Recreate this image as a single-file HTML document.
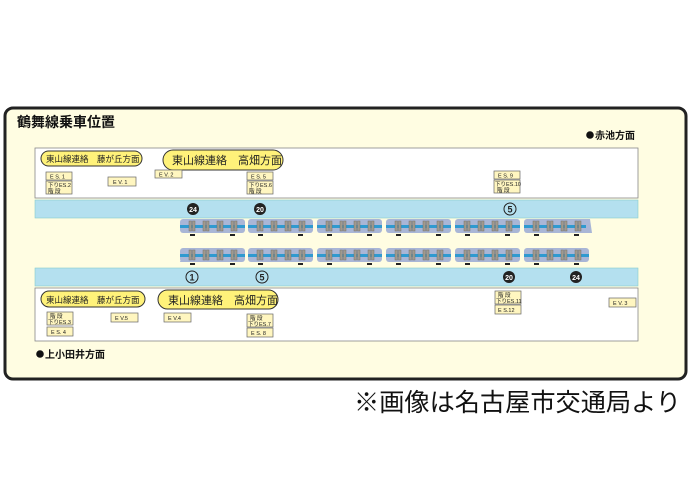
<!DOCTYPE html>
<html><head><meta charset="utf-8"><style>
body{margin:0;background:#fff;width:690px;height:488px;overflow:hidden}
svg text{font-family:"Liberation Sans","Noto Sans CJK JP",sans-serif}
</style></head><body>
<svg width="690" height="488" xmlns="http://www.w3.org/2000/svg">
<defs>
<g id="car">
<rect x="0" y="0" width="65" height="14" rx="3" fill="#a9b6d6"/>
<rect x="0" y="6" width="65" height="3" fill="#2f9ad0"/>
<g fill="#a09a8e" stroke="#77726a" stroke-width="0.5">
<rect x="9" y="2" width="2.5" height="10"/><rect x="12.5" y="2" width="2.5" height="10"/>
<rect x="23" y="2" width="2.5" height="10"/><rect x="26.5" y="2" width="2.5" height="10"/>
<rect x="37" y="2" width="2.5" height="10"/><rect x="40.5" y="2" width="2.5" height="10"/>
<rect x="51" y="2" width="2.5" height="10"/><rect x="54.5" y="2" width="2.5" height="10"/>
</g>
<rect x="10" y="15" width="5" height="2" fill="#222"/><rect x="50" y="15" width="5" height="2" fill="#222"/>
</g>
</defs>
<rect x="5" y="108" width="681" height="271" rx="8" fill="#fffde2" stroke="#222" stroke-width="3"/>
<text x="17" y="127" font-size="14" font-weight="bold" fill="#111">鶴舞線乗車位置</text>
<circle cx="590" cy="135" r="3.8" fill="#111"/>
<text x="595" y="139" font-size="10" font-weight="bold" fill="#111">赤池方面</text>
<circle cx="40" cy="354" r="3.8" fill="#111"/>
<text x="45" y="358" font-size="10" font-weight="bold" fill="#111">上小田井方面</text>
<rect x="35" y="148" width="603" height="50" fill="#fff" stroke="#888" stroke-width="0.8"/>
<rect x="35" y="200" width="603" height="18" fill="#b4e0ef" stroke="#8cc" stroke-width="0.6"/>
<rect x="35" y="268" width="603" height="18" fill="#b4e0ef" stroke="#8cc" stroke-width="0.6"/>
<rect x="35" y="288" width="603" height="53" fill="#fff" stroke="#888" stroke-width="0.8"/>
<rect x="41" y="151" width="101" height="15" rx="7.5" fill="#fff27a" stroke="#333"/>
<text x="46" y="162" font-size="8.5" fill="#222">東山線連絡　藤が丘方面</text>
<rect x="163" y="150" width="120" height="20" rx="10" fill="#fff27a" stroke="#333"/>
<text x="172" y="164" font-size="11" fill="#222">東山線連絡　高畑方面</text>
<rect x="41" y="291" width="104" height="16" rx="8" fill="#fff27a" stroke="#333"/>
<text x="46" y="303" font-size="8.5" fill="#222">東山線連絡　藤が丘方面</text>
<rect x="158" y="290" width="120" height="19" rx="9.5" fill="#fff27a" stroke="#333"/>
<text x="168" y="304" font-size="11" fill="#222">東山線連絡　高畑方面</text>
<g font-size="5.5" fill="#222">
<rect x="46" y="172" width="26" height="8" fill="#fff6c0" stroke="#666" stroke-width="0.7"/><text x="50" y="178.5">E S. 1</text>
<rect x="46" y="181" width="26" height="13" fill="#fff6c0" stroke="#666" stroke-width="0.7"/><text x="48" y="187">下りES.2</text><text x="48" y="193">階 段</text>
<rect x="108" y="177" width="28" height="9" fill="#fff6c0" stroke="#666" stroke-width="0.7"/><text x="113" y="184">E V. 1</text>
<rect x="155" y="170" width="27" height="8" fill="#fff6c0" stroke="#666" stroke-width="0.7"/><text x="159" y="176.5">E V. 2</text>
<rect x="247" y="172" width="26" height="8" fill="#fff6c0" stroke="#666" stroke-width="0.7"/><text x="251" y="178.5">E S. 5</text>
<rect x="247" y="181" width="26" height="13" fill="#fff6c0" stroke="#666" stroke-width="0.7"/><text x="249" y="187">下りES.6</text><text x="249" y="193">階 段</text>
<rect x="494" y="171" width="26" height="8" fill="#fff6c0" stroke="#666" stroke-width="0.7"/><text x="498" y="177.5">E S. 9</text>
<rect x="494" y="180" width="26" height="13" fill="#fff6c0" stroke="#666" stroke-width="0.7"/><text x="495" y="186">下りES.10</text><text x="497" y="192">階 段</text>
<rect x="47" y="312" width="26" height="13" fill="#fff6c0" stroke="#666" stroke-width="0.7"/><text x="50" y="318">階 段</text><text x="48" y="324">下りES.3</text>
<rect x="47" y="327" width="26" height="9" fill="#fff6c0" stroke="#666" stroke-width="0.7"/><text x="51" y="334">E S. 4</text>
<rect x="111" y="313" width="27" height="9" fill="#fff6c0" stroke="#666" stroke-width="0.7"/><text x="115" y="320">E V.5</text>
<rect x="164" y="313" width="27" height="9" fill="#fff6c0" stroke="#666" stroke-width="0.7"/><text x="168" y="320">E V.4</text>
<rect x="247" y="314" width="26" height="13" fill="#fff6c0" stroke="#666" stroke-width="0.7"/><text x="250" y="320">階 段</text><text x="248" y="326">下りES.7</text>
<rect x="247" y="328" width="26" height="9" fill="#fff6c0" stroke="#666" stroke-width="0.7"/><text x="251" y="335">E S. 8</text>
<rect x="495" y="291" width="26" height="13" fill="#fff6c0" stroke="#666" stroke-width="0.7"/><text x="498" y="297">階 段</text><text x="496" y="303">下りES.11</text>
<rect x="495" y="305" width="26" height="9" fill="#fff6c0" stroke="#666" stroke-width="0.7"/><text x="498" y="312">E S.12</text>
<rect x="609" y="298" width="27" height="9" fill="#fff6c0" stroke="#666" stroke-width="0.7"/><text x="613" y="305">E V. 3</text>
</g>
<g font-size="9" font-weight="bold" text-anchor="middle">
<circle cx="193" cy="209" r="6" fill="#222"/><text x="193" y="212" fill="#fff" font-size="7">24</text>
<circle cx="260" cy="209" r="6" fill="#222"/><text x="260" y="212" fill="#fff" font-size="7">20</text>
<circle cx="510" cy="209" r="6" fill="none" stroke="#222"/><text x="510" y="212.5" fill="#222">5</text>
<circle cx="192" cy="277" r="6" fill="none" stroke="#222"/><text x="192" y="280.5" fill="#222">1</text>
<circle cx="262" cy="277" r="6" fill="none" stroke="#222"/><text x="262" y="280.5" fill="#222">5</text>
<circle cx="509" cy="277" r="6" fill="#222"/><text x="509" y="280" fill="#fff" font-size="7">20</text>
<circle cx="576" cy="277" r="6" fill="#222"/><text x="576" y="280" fill="#fff" font-size="7">24</text>
</g>
<use href="#car" x="180" y="219"/><use href="#car" x="248" y="219"/><use href="#car" x="317" y="219"/>
<use href="#car" x="386" y="219"/><use href="#car" x="455" y="219"/><use href="#car" x="524" y="219"/>
<polygon points="586,219 590,219 592,233 586,233" fill="#a9b6d6"/>
<polygon points="184,248 180,262 184,262" fill="#a9b6d6"/>
<use href="#car" x="180" y="248"/><use href="#car" x="248" y="248"/><use href="#car" x="317" y="248"/>
<use href="#car" x="386" y="248"/><use href="#car" x="455" y="248"/><use href="#car" x="524" y="248"/>
<text x="354" y="411" font-size="25.2" fill="#111">※画像は名古屋市交通局より</text>
</svg>
</body></html>
